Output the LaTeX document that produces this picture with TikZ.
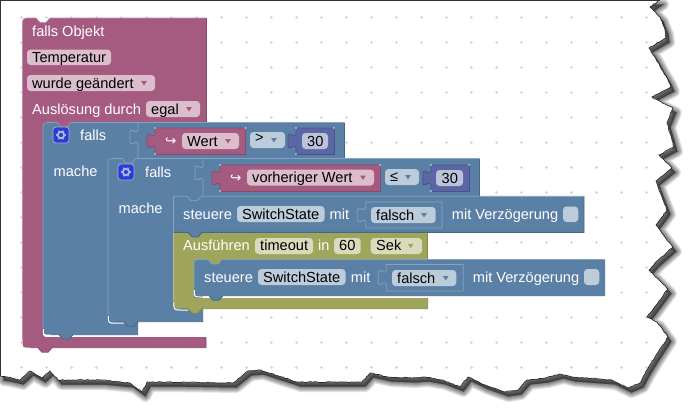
\documentclass[tikz,border=0pt]{standalone}
\usepackage{fontspec}
\setmainfont{Liberation Sans}
\newfontfamily\symfont{DejaVu Sans}
\usetikzlibrary{decorations.pathmorphing}
\definecolor{mag}{HTML}{A55B80}
\definecolor{magL}{HTML}{C58DA9}
\definecolor{magD}{HTML}{8A4A6A}
\definecolor{magF}{HTML}{DBBDCC}
\definecolor{blu}{HTML}{5B80A5}
\definecolor{bluL}{HTML}{86A2BE}
\definecolor{bluD}{HTML}{47678A}
\definecolor{bluF}{HTML}{BDCCDB}
\definecolor{oli}{HTML}{9FA55B}
\definecolor{oliL}{HTML}{BBC088}
\definecolor{oliD}{HTML}{82874A}
\definecolor{oliF}{HTML}{D9DBBD}
\definecolor{pur}{HTML}{5B67A5}
\definecolor{purD}{HTML}{49538A}
\definecolor{purF}{HTML}{BDC2DB}
\definecolor{gearbg}{HTML}{2B3BD8}
\newcommand\notchf[2]{-- (#1,#2) -- (#1+4,#2+4.5) -- (#1+10,#2+4.5) -- (#1+14,#2)}
\newcommand\notchb[2]{-- (#1+14,#2) -- (#1+10,#2+4.5) -- (#1+4,#2+4.5) -- (#1,#2)}
\newcommand\tabup[2]{-- (#1,#2+20) .. controls (#1-1,#2+18) .. (#1-3,#2+18.5) -- (#1-6,#2+20) .. controls (#1-8,#2+20) .. (#1-8,#2+16) -- (#1-8,#2+10) .. controls (#1-8,#2+6) .. (#1-6,#2+6) -- (#1-3,#2+7.5) .. controls (#1-1,#2+8) .. (#1,#2+6)}
\newcommand\tabdown[2]{-- (#1,#2+6) .. controls (#1-1,#2+8) .. (#1-3,#2+7.5) -- (#1-6,#2+6) .. controls (#1-8,#2+6) .. (#1-8,#2+10) -- (#1-8,#2+16) .. controls (#1-8,#2+20) .. (#1-6,#2+20) -- (#1-3,#2+18.5) .. controls (#1-1,#2+18) .. (#1,#2+20)}
\newcommand\fld[5]{\fill[#5,rounded corners=3.5pt] (#1,#2) rectangle (#3,#4);}
\newcommand\txt[5]{\node[#4,anchor=base west,inner sep=0pt] (#1) at (#2,#3+5) {#5};}
\newcommand\ddarrow[3]{\fill[#3] (#1-2.8,#2-1.8) -- (#1+2.8,#2-1.8) -- (#1,#2+2.4) -- cycle;}
\newcommand\reporter[6]{%
  \fill[#5] (#1,#2) -- (#3,#2) -- (#3,#4) -- (#1,#4) \tabup{#1}{#2} -- cycle;
  \draw[#6,line width=.7pt] (#1,#4) \tabup{#1}{#2} -- (#1,#2) -- (#3,#2);
  \draw[#6,line width=.9pt] (#3,#2) -- (#3,#4) -- (#1,#4);
  \fill[white] (#1-.6,#2-.6) rectangle (#1+.6,#2+.6) (#3-.6,#2-.6) rectangle (#3+.6,#2+.6) (#1-.6,#4-.6) rectangle (#1+.6,#4+.6);
}
\newcommand\socket[3]{\draw[bluL,line width=.7pt] (#1,#2) \tabdown{#1}{#2+1.5} -- (#1,#3);}
\newcommand\shadowblock[4]{%
  \draw[bluL,line width=.7pt] (#1,#4) \tabup{#1}{#2} -- (#1,#2) -- (#3,#2) -- (#3,#4) -- cycle;
}
\newcommand\gear[3]{%
  \fill[gearbg,draw=bluF!70!blu,line width=.7pt,rounded corners=3pt] (#1-8,#2-8) rectangle (#1+8,#2+8);
  \draw[bluF!85!gearbg,line width=1.9pt] (#1,#2) circle[radius=3.2];
  \foreach \a in {0,60,...,300}{\draw[bluF!85!gearbg,line width=1.5pt] (#1,#2) ++(\a:3.6) -- ++(\a:1.4);}
  \coordinate (#3) at (#1,#2);
}
\newcommand\paperpath{(0,0) -- (660,0) -- (650,7) -- (660,17) -- (665,30) -- (666,38) -- (649,48) -- (655,57) -- (662,70) -- (668,80) -- (671,87) -- (652,97) -- (665,104) -- (673,108) -- (667,123) -- (670,133) -- (674,147) -- (659,155) -- (672,168) -- (656,181) -- (662,197) -- (667,210) -- (656,225) -- (665,237) -- (673,247) -- (655,263) -- (649,270) -- (668,289) -- (647,317) -- (657,322) -- (668,337) -- (655,357) -- (647,370) -- (640,383) -- (628,388) -- (612,380) -- (572,377) -- (560,374) -- (545,378) -- (527,380) -- (518,390) -- (505,392) -- (485,385) -- (468,377) -- (460,387) -- (442,380) -- (425,377) -- (412,378) -- (388,377) -- (370,373) -- (362,382) -- (345,382) -- (297,382) -- (260,370) -- (248,371) -- (233,383) -- (167,382) -- (147,382) -- (142,392) -- (130,383) -- (100,380) -- (58,380) -- (50,371) -- (42,378) -- (30,371) -- (20,380) -- (7,377) -- (0,376)}
\tikzset{x=1pt,y=-1pt,
  wt/.style={text=white,font=\fontsize{14.6}{16}\selectfont},
  bk/.style={text=black,font=\fontsize{14.6}{16}\selectfont}}
\begin{document}
\begin{tikzpicture}
\useasboundingbox (0,0) rectangle (695,413);
\fill[white] (0,0) rectangle (695,413);
% paper shadow
\begin{scope}[shift={(3.5,4.5)},line join=round]
  \foreach \w in {11,9,7,5,3,1}{\draw[black,opacity=.11,line width=\w pt,fill=black,fill opacity=.11] \paperpath -- cycle;}
\end{scope}
\fill[white] \paperpath -- cycle;
% dot grid
\begin{scope}
\clip \paperpath -- cycle;
\foreach \i in {0,...,25}{\foreach \j in {0,...,14}{
  \draw[black!16,line width=.8pt] (21.7+25*\i-1.5,17.3+25*\j) -- ++(3,0) (21.7+25*\i,17.3+25*\j-1.5) -- ++(0,3);}}
\end{scope}
% torn outline
\draw[black!85,line width=.7pt,decorate,decoration={random steps,segment length=2.5pt,amplitude=.5pt}] (660,0) -- (650,7) -- (660,17) -- (665,30) -- (666,38) -- (649,48) -- (655,57) -- (662,70) -- (668,80) -- (671,87) -- (652,97) -- (665,104) -- (673,108) -- (667,123) -- (670,133) -- (674,147) -- (659,155) -- (672,168) -- (656,181) -- (662,197) -- (667,210) -- (656,225) -- (665,237) -- (673,247) -- (655,263) -- (649,270) -- (668,289) -- (647,317) -- (657,322) -- (668,337) -- (655,357) -- (647,370) -- (640,383) -- (628,388) -- (612,380) -- (572,377) -- (560,374) -- (545,378) -- (527,380) -- (518,390) -- (505,392) -- (485,385) -- (468,377) -- (460,387) -- (442,380) -- (425,377) -- (412,378) -- (388,377) -- (370,373) -- (362,382) -- (345,382) -- (297,382) -- (260,370) -- (248,371) -- (233,383) -- (167,382) -- (147,382) -- (142,392) -- (130,383) -- (100,380) -- (58,380) -- (50,371) -- (42,378) -- (30,371) -- (20,380) -- (7,377) -- (0,376);
\draw[black!80,line width=1pt] (.5,376) -- (.5,.5) -- (660,.5);
% magenta block
\fill[mag] (22.5,26) .. controls (22.5,18) .. (30.5,18) \notchf{36}{18} -- (206,18) -- (206,123) -- (75,123) -- (75,129) -- (43,129) -- (43,330) .. controls (43,337) .. (50,337) -- (206,337) -- (206,347.7) \notchb{38}{347.7} -- (30,347.7) .. controls (22.5,347.7) .. (22.5,340) -- cycle;
\draw[magL,line width=.7pt] (22.5,340) -- (22.5,26) .. controls (22.5,18) .. (30.5,18) \notchf{36}{18} -- (206,18);
\draw[magD,line width=.7pt] (206,18) -- (206,123);
\draw[magD,line width=.9pt] (206,337) -- (206,347.7) \notchb{38}{347.7} -- (30,347.7);
% magenta fields
\fld{27}{49.5}{111}{65}{magF}
\fld{27}{75}{155}{91}{magF}
\fld{146}{101}{200}{117}{magF}
\txt{t1}{32}{31}{wt}{falls Objekt}
\txt{t2}{32}{57}{bk}{Temperatur}
\txt{t3}{32}{83}{bk}{wurde geändert}
\ddarrow{144}{83}{mag}
\txt{t4}{32}{109}{wt}{Auslösung durch}
\txt{t5}{151}{109}{bk}{egal}
\ddarrow{189}{109}{mag}
% blue block 1
\fill[blu] (43,130.5) .. controls (43,122.5) .. (51,122.5) \notchf{57}{122.5} -- (344.5,122.5) -- (344.5,158) -- (137.7,158) -- (137.7,334.7) \notchb{59}{334.7} -- (51,334.7) .. controls (43,334.7) .. (43,327) -- cycle;
\draw[bluL,line width=.7pt] (43,327) -- (43,130.5) .. controls (43,122.5) .. (51,122.5) \notchf{57}{122.5} -- (344.5,122.5);
\draw[bluD,line width=.9pt] (344.5,122.5) -- (344.5,158) -- (137.7,158);
\draw[bluD,line width=.9pt] (137.7,321.7) -- (137.7,334.7) \notchb{59}{334.7} -- (51,334.7);
\socket{138}{122.5}{158}
\gear{61}{135}{g1}
\txt{t6}{80}{135}{wt}{falls}
\txt{t7}{53.5}{171}{wt}{mache}
\reporter{155}{128}{245.5}{154}{mag}{magD}
\node[wt,anchor=base west,inner sep=0pt,font=\symfont\fontsize{13.5}{15}\selectfont] (r1) at (165,145.5) {↪};
\fld{182}{133}{239}{149}{magF}
\txt{t8}{187}{141}{bk}{Wert}
\ddarrow{228}{141}{mag}
\fld{250}{132}{285}{148}{bluF}
\txt{t9}{255}{137}{bk}{>}
\ddarrow{274}{140}{blu}
\reporter{296}{128}{334}{154}{pur}{purD}
\fld{302}{133}{328}{149}{purF}
\txt{t10}{307}{141}{bk}{30}
% blue block 2
\fill[blu] (108,166.5) .. controls (108,158.5) .. (116,158.5) \notchf{122}{158.5} -- (479.3,158.5) -- (479.3,196) -- (202.7,196) -- (202.7,321.7) \notchb{124}{321.7} -- (116,321.7) .. controls (108,321.7) .. (108,314) -- cycle;
\draw[bluL,line width=.7pt] (108,314) -- (108,166.5) .. controls (108,158.5) .. (116,158.5) \notchf{122}{158.5} -- (479.3,158.5);
\draw[bluD,line width=.9pt] (479.3,158.5) -- (479.3,196) -- (202.7,196);
\draw[bluD,line width=.9pt] (202.7,308) -- (202.7,321.7) \notchb{124}{321.7} -- (116,321.7);
\socket{203}{158.5}{196}
\gear{126}{172}{g2}
\txt{t11}{145}{172}{wt}{falls}
\txt{t12}{118.5}{208}{wt}{mache}
\reporter{220}{165}{380}{191}{mag}{magD}
\node[wt,anchor=base west,inner sep=0pt,font=\symfont\fontsize{13.5}{15}\selectfont] (r2) at (230,182.5) {↪};
\fld{247}{169.5}{374}{185.5}{magF}
\txt{t13}{252}{177.5}{bk}{vorheriger Wert}
\ddarrow{363}{177.5}{mag}
\fld{385}{169}{419}{185}{bluF}
\node[bk,anchor=base west,inner sep=0pt] (t14) at (390,181) {≤};
\ddarrow{408}{177}{blu}
\reporter{431}{165}{469}{191}{pur}{purD}
\fld{436}{170}{463}{186}{purF}
\txt{t15}{441.5}{178}{bk}{30}
% olive block
\fill[oli] (173.5,232.5) -- (427.7,232.5) -- (427.7,259) -- (225,259) -- (225,265) -- (194,265) -- (194,298) -- (427.7,298) -- (427.7,308.7) \notchb{188}{308.7} -- (181,308.7) .. controls (173.5,308.7) .. (173.5,301) -- cycle;
\draw[oliL,line width=.7pt] (173.5,301) -- (173.5,232.5) -- (427.7,232.5);
\draw[oliD,line width=.9pt] (427.7,232.5) -- (427.7,259) -- (225,259);
\draw[oliD,line width=.9pt] (427.7,298) -- (427.7,308.7) \notchb{188}{308.7} -- (181,308.7);
\fld{255}{238}{313}{254}{oliF}
\fld{334}{238}{360.7}{254}{oliF}
\fld{370.7}{238}{422}{254}{oliF}
\txt{t16}{183}{245.7}{wt}{Ausführen}
\txt{t17}{260}{245.7}{bk}{timeout}
\txt{t18}{318}{245.7}{wt}{in}
\txt{t19}{339}{245.7}{bk}{60}
\txt{t20}{376}{245.7}{bk}{Sek}
\ddarrow{410.7}{245.7}{oli}
% blue block 3
\fill[blu] (173.5,196.3) \notchf{187}{196.3} -- (584,196.3) -- (584,232.3) \notchb{188}{232.3} -- (173.5,232.3) -- cycle;
\draw[bluL,line width=.7pt] (173.5,232.3) -- (173.5,196.3) \notchf{187}{196.3} -- (584,196.3);
\draw[bluD,line width=.9pt] (584,196.3) -- (584,232.3) \notchb{188}{232.3} -- (173.5,232.3);
\txt{t21}{183}{214}{wt}{steuere}
\fld{237}{206}{324.5}{222}{bluF}
\txt{t22}{242}{214}{bk}{SwitchState}
\txt{t23}{329.5}{214}{wt}{mit}
\shadowblock{365.7}{202}{442}{228}
\fld{371}{207}{435.7}{223}{bluF}
\txt{t24}{376}{215}{bk}{falsch}
\ddarrow{424}{215}{blu}
\txt{t25}{451.7}{214}{wt}{mit Verzögerung}
\fld{563}{206.5}{578.3}{222}{bluF}
% blue block 4
\fill[blu] (194,266.5) .. controls (194,259.5) .. (201,259.5) \notchf{208}{259.5} -- (604.7,259.5) -- (604.7,295.7) \notchb{209}{295.7} -- (201,295.7) .. controls (194,295.7) .. (194,288.5) -- cycle;
\draw[bluL,line width=.7pt] (194,288.5) -- (194,266.5) .. controls (194,259.5) .. (201,259.5) \notchf{208}{259.5} -- (604.7,259.5);
\draw[bluD,line width=.9pt] (604.7,259.5) -- (604.7,295.7) \notchb{209}{295.7} -- (201,295.7);
\txt{t26}{204}{277}{wt}{steuere}
\fld{258}{269}{345.5}{285}{bluF}
\txt{t27}{263}{277}{bk}{SwitchState}
\txt{t28}{350.7}{277}{wt}{mit}
\shadowblock{386.3}{264.5}{463.3}{291}
\fld{392}{270}{456.3}{286}{bluF}
\txt{t29}{397}{278}{bk}{falsch}
\ddarrow{445.7}{278}{blu}
\txt{t30}{472.7}{277}{wt}{mit Verzögerung}
\fld{584}{269}{599.3}{285}{bluF}
% white inner-corner highlights
\draw[white,line width=1pt] (43.3,329) .. controls (43.3,336.3) .. (51,336.3) -- (59,336.3);
\draw[white,line width=1pt] (108.3,316) .. controls (108.3,323.2) .. (116,323.2) -- (124,323.2);
\draw[white,line width=1pt] (173.8,302) .. controls (173.8,310) .. (181,310) -- (188,310);
\draw[white,line width=1pt] (194.3,290) .. controls (194.3,297) .. (201,297) -- (209,297);
\end{tikzpicture}
\end{document}
